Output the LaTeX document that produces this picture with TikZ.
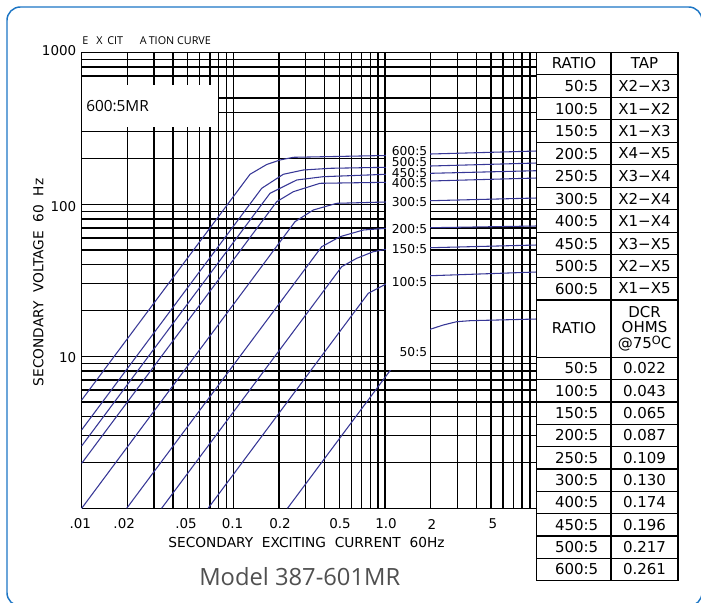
\documentclass[tikz,border=0pt]{standalone}
\usepackage{fontspec}
\setmainfont{DejaVu Sans}
\newfontfamily\osans{Open Sans}
\definecolor{curvecol}{RGB}{55,55,150}
\definecolor{framecol}{RGB}{28,117,196}
\definecolor{modelgray}{RGB}{80,80,80}
\begin{document}
\begin{tikzpicture}[x=0.75pt,y=-0.75pt,
  gridln/.style={black, line width=1pt},
  crv/.style={curvecol, line width=0.8pt, line join=round},
  tbl/.style={black, line width=0.95pt},
  cadT/.style={font=\fontsize{11.25pt}{13pt}\selectfont, inner sep=0pt},
  cadL/.style={font=\fontsize{9.2pt}{11pt}\selectfont, inner sep=0pt, anchor=east},
  cadA/.style={font=\fontsize{10.1pt}{12pt}\selectfont, inner sep=0pt},
  ttl/.style={font=\osans\fontsize{8.1pt}{9pt}\selectfont, inner sep=0pt, anchor=base west}]
\useasboundingbox (0,0) rectangle (701,603);
\begin{scope}
\clip (0,0) rectangle (701,603);
\draw[framecol, line width=1.1pt, rounded corners=10pt] (7,7) rectangle (702,606);
\end{scope}

% vertical grid
\foreach \d in {0,1,2} {
  \foreach \m in {1,...,9} {
    \pgfmathsetmacro\xx{81.7+(\d+ln(\m)/ln(10))*151.7}
    \draw[gridln] (\xx,52.3) -- (\xx,508.3);
  }
}
\draw[gridln] (536.8,52.3) -- (536.8,508.3);
% horizontal grid
\foreach \d in {0,1,2} {
  \foreach \m in {1,...,9} {
    \ifnum\d\m=26 \else
    \pgfmathsetmacro\yy{508.3-(\d+ln(\m)/ln(10))*152}
    \draw[gridln] (81.7,\yy) -- (536.8,\yy);
    \fi
  }
}
\draw[gridln] (81.7,52.3) -- (536.8,52.3);

% curves
\draw[crv] (81.7,400) -- (250,174.3) -- (266.7,164.5) -- (280,160) -- (293.3,157.3) -- (386,155.5) -- (431,154) -- (536.8,151);
\draw[crv] (81.7,429.8) -- (261.7,188.3) -- (283.3,174.3) -- (303.3,170) -- (330,168.3) -- (386,167.3) -- (431,166) -- (536.8,163);
\draw[crv] (81.7,445.9) -- (270,193.3) -- (296.7,180) -- (323,176.7) -- (386,174.3) -- (431,173.3) -- (536.8,170.7);
\draw[crv] (81.7,463.3) -- (276.7,201.7) -- (293.3,191.7) -- (320,183.3) -- (386,182.3) -- (431,181) -- (536.8,178);
\draw[crv] (81.7,508.3) -- (295,221.7) -- (313.3,210) -- (336.7,203.3) -- (386,202) -- (431,200.7) -- (536.8,198);
\draw[crv] (126.7,508.3) -- (321.7,246.7) -- (340,236.7) -- (363.3,230) -- (386,228.3) -- (431,227.7) -- (536.8,226);
\draw[crv] (161.6,508.3) -- (341.7,266.7) -- (356.7,258.3) -- (373.3,251.7) -- (386,249.3) -- (431,247.7) -- (536.8,245);
\draw[crv] (208.1,508.3) -- (368.3,293.3) -- (386,284) -- (405,279) -- (431,275.7) -- (536.8,272);
\draw[crv] (287.5,508.3) -- (390,370.7) -- (405,352) -- (420,336) -- (431,329) -- (443.3,325) -- (456.7,321.7) -- (470,320.7) -- (536.8,319);

% white label areas
\fill[white] (82.4,85) rectangle (218,127);
\fill[white] (385.8,132.6) rectangle (430.1,370.2);

% title and label
\node[ttl] (tE) at (82,44.3) {E};
\node[ttl] (tX) at (96,44.3) {X};
\node[ttl] (tC) at (107,44.3) {CIT};
\node[ttl] (tA) at (139.5,44.3) {A};
\node[ttl] (tT) at (148.5,44.3) {TION CURVE};
\node[font=\osans\fontsize{11.5pt}{14pt}\selectfont, inner sep=0pt, anchor=base west] (mr) at (86,111) {600:5MR};

% curve labels
\node[cadL] (l600) at (427.5,150.7) {600:5};
\node[cadL] (l500) at (427.5,162.1) {500:5};
\node[cadL] (l450) at (427.5,172.7) {450:5};
\node[cadL] (l400) at (427.5,183.5) {400:5};
\node[cadL] (l300) at (427.5,202.3) {300:5};
\node[cadL] (l200) at (427.5,229.3) {200:5};
\node[cadL] (l150) at (427.5,249) {150:5};
\node[cadL] (l100) at (427.5,281.7) {100:5};
\node[cadL] (l50) at (427.5,351.7) {50:5};

% axis labels
\node[cadA, anchor=east] (y1000) at (76.5,50.5) {1000};
\node[cadA, anchor=east] (y100) at (76.5,206.5) {100};
\node[cadA, anchor=east] (y10) at (76.5,358) {10};
\foreach \xv/\lab [count=\i] in {80.3/.01,124.2/.02,186/.05,232.5/0.1,280/0.2,340/0.5,386/1.0,432/2,493/5}
  \node[cadA] (xl\i) at (\xv,524) {\lab};
\node[font=\fontsize{10.3pt}{12pt}\selectfont, inner sep=0pt] (xtitle) at (306.5,542) {SECONDARY\ \ EXCITING\ \ CURRENT\ \ 60Hz};
\node[font=\fontsize{10.3pt}{12pt}\selectfont, inner sep=0pt, rotate=90] (ytitle) at (38.5,282.5) {SECONDARY\ \ VOLTAGE\ \ 60\ \ Hz};

% table
\draw[tbl] (536.8,52.3) rectangle (678,580.7);
\draw[tbl] (611,52.3) -- (611,580.7);
\foreach \k in {1,...,10} \draw[tbl] (536.8,{52.3+\k*22.5}) -- (678,{52.3+\k*22.5});
\draw[black, line width=1.8pt] (536.8,299.8) -- (678,299.8);
\foreach \k in {0,...,9} \draw[tbl] (536.8,{357.3+\k*22.34}) -- (678,{357.3+\k*22.34});

\node[cadT] (hR) at (574,63.2) {RATIO};
\node[cadT] (hT) at (644.5,63.2) {TAP};
\foreach \r/\t [count=\k] in {50:5/X2−X3,100:5/X1−X2,150:5/X1−X3,200:5/X4−X5,250:5/X3−X4,300:5/X2−X4,400:5/X1−X4,450:5/X3−X5,500:5/X2−X5,600:5/X1−X5} {
  \node[cadT, anchor=east] (ra\k) at (598.5,{52.3+(\k+0.5)*22.5}) {\r};
  \node[cadT] (ta\k) at (644.5,{52.3+(\k+0.5)*22.5}) {\t};
}
\node[cadT] (hR2) at (574,328.5) {RATIO};
\node[cadT] (hD1) at (644.5,312) {DCR};
\node[cadT] (hD2) at (644.5,327.5) {OHMS};
\node[cadT, anchor=base] (hD3) at (644.5,348.5) {@75\raisebox{0.45ex}{\fontsize{8.5pt}{9pt}\selectfont O}C};
\foreach \r/\v [count=\k] in {50:5/0.022,100:5/0.043,150:5/0.065,200:5/0.087,250:5/0.109,300:5/0.130,400:5/0.174,450:5/0.196,500:5/0.217,600:5/0.261} {
  \node[cadT, anchor=east] (rb\k) at (598.5,{357.3+(\k-0.5)*22.34}) {\r};
  \node[cadT] (dc\k) at (644.5,{357.3+(\k-0.5)*22.34}) {\v};
}

% model
\node[font=\osans\fontsize{17.8pt}{20pt}\selectfont, text=modelgray, inner sep=0pt, anchor=base west] (model) at (199,585) {Model 387-601MR};
\end{tikzpicture}
\end{document}
